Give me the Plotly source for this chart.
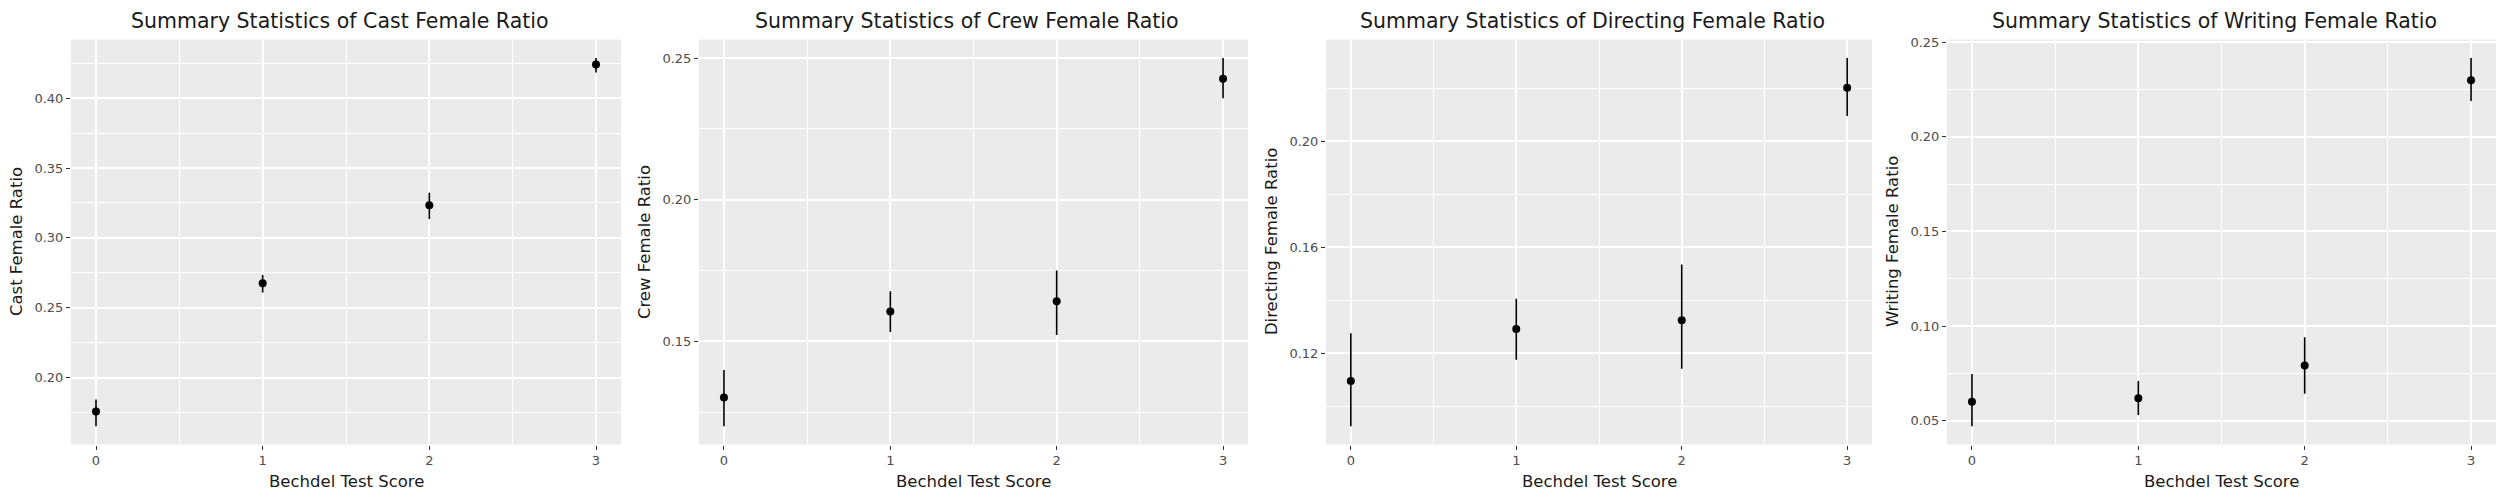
import plotly.graph_objects as go

# Bechdel score on x, ratios
scores = [0, 1, 2, 3]

cast_mean = [0.1757, 0.2675, 0.3234, 0.4241]
cast_low = [0.1652, 0.2609, 0.3135, 0.4184]
cast_high = [0.1842, 0.2734, 0.3324, 0.4288]

crew_mean = [0.1302, 0.1606, 0.1642, 0.2427]
crew_low = [0.1201, 0.1533, 0.1523, 0.2358]
crew_high = [0.1399, 0.1677, 0.1750, 0.2500]

dir_mean = [0.1095, 0.1292, 0.1325, 0.2203]
dir_low = [0.0925, 0.1176, 0.1142, 0.2096]
dir_high = [0.1276, 0.1406, 0.1535, 0.2315]

wri_mean = [0.0601, 0.0619, 0.0792, 0.2299]
wri_low = [0.0472, 0.0531, 0.0643, 0.2189]
wri_high = [0.0748, 0.0711, 0.0941, 0.2416]

panels = [
    ("Cast", cast_mean, cast_low, cast_high, 0.20, 0.05),
    ("Crew", crew_mean, crew_low, crew_high, 0.15, 0.05),
    ("Directing", dir_mean, dir_low, dir_high, 0.12, 0.04),
    ("Writing", wri_mean, wri_low, wri_high, 0.05, 0.05),
]

W, H = 2499, 498
# plot area pixel boxes (left, right)
boxes = [(71, 621), (699, 1248), (1326, 1872), (1947, 2496)]
top_px, bot_px = 35, 444

FONT = "DejaVu Sans"
fig = go.Figure()
annotations = []

for i, (name, mean, low, high, t0, dt) in enumerate(panels):
    n = "" if i == 0 else str(i + 1)
    fig.add_trace(go.Scatter(
        x=scores, y=mean, mode="markers",
        marker=dict(color="black", size=8),
        error_y=dict(type="data", symmetric=False,
                     array=[h - m for h, m in zip(high, mean)],
                     arrayminus=[m - l for m, l in zip(mean, low)],
                     width=0, thickness=1.6, color="black"),
        xaxis="x" + n, yaxis="y" + n, showlegend=False,
    ))
    lo, hi = min(low), max(high)
    pad = (hi - lo) * 0.05
    l, r = boxes[i]
    fig.layout["xaxis" + n] = dict(
        domain=[l / W, r / W], anchor="y" + n,
        range=[-0.15, 3.15], tickmode="linear", tick0=0, dtick=1,
        showgrid=True, gridcolor="white", gridwidth=1.6, zeroline=False,
        minor=dict(tick0=0.5, dtick=1, showgrid=True, gridcolor="white",
                   gridwidth=0.8, ticklen=0),
        ticks="outside", ticklen=4, tickwidth=1.2, tickcolor="#333333",
        tickfont=dict(family=FONT, size=13, color="#4d4d4d"),
        showline=False,
    )
    fig.layout["yaxis" + n] = dict(
        domain=[1 - bot_px / H, 1 - top_px / H], anchor="x" + n,
        range=[lo - pad, hi + pad], tickmode="linear", tick0=t0, dtick=dt,
        tickformat=".2f",
        showgrid=True, gridcolor="white", gridwidth=1.6, zeroline=False,
        minor=dict(tick0=t0 + dt / 2, dtick=dt, showgrid=True, gridcolor="white",
                   gridwidth=0.8, ticklen=0),
        ticks="outside", ticklen=4, tickwidth=1.2, tickcolor="#333333",
        tickfont=dict(family=FONT, size=13, color="#4d4d4d"),
        showline=False,
    )
    cx = (l + r) / 2 - 7
    annotations.append(dict(
        text="Summary Statistics of %s Female Ratio" % name,
        x=cx / W, y=1 - 16 / H, xref="paper", yref="paper",
        xanchor="center", yanchor="middle", showarrow=False,
        font=dict(family=FONT, size=20.5, color="#1a1a1a")))
    annotations.append(dict(
        text="Bechdel Test Score",
        x=(l + r) / 2 / W, y=1 - 481 / H, xref="paper", yref="paper",
        xanchor="center", yanchor="middle", showarrow=False,
        font=dict(family=FONT, size=16.5, color="#1a1a1a")))
    annotations.append(dict(
        text="%s Female Ratio" % name, textangle=-90,
        x=(l - 55) / W, y=1 - (top_px + bot_px) / 2 / H,
        xref="paper", yref="paper",
        xanchor="center", yanchor="middle", showarrow=False,
        font=dict(family=FONT, size=16.5, color="#1a1a1a")))

fig.update_layout(
    width=W, height=H,
    margin=dict(l=0, r=0, t=0, b=0),
    paper_bgcolor="white", plot_bgcolor="#ebebeb",
    annotations=annotations,
)

# page body has an 8px default margin; drop it so the figure fills the window
fig.write_html("out.html",
               config={"displayModeBar": False},
               post_script="document.body.style.margin='0';"
                           "document.body.style.overflow='hidden';")
